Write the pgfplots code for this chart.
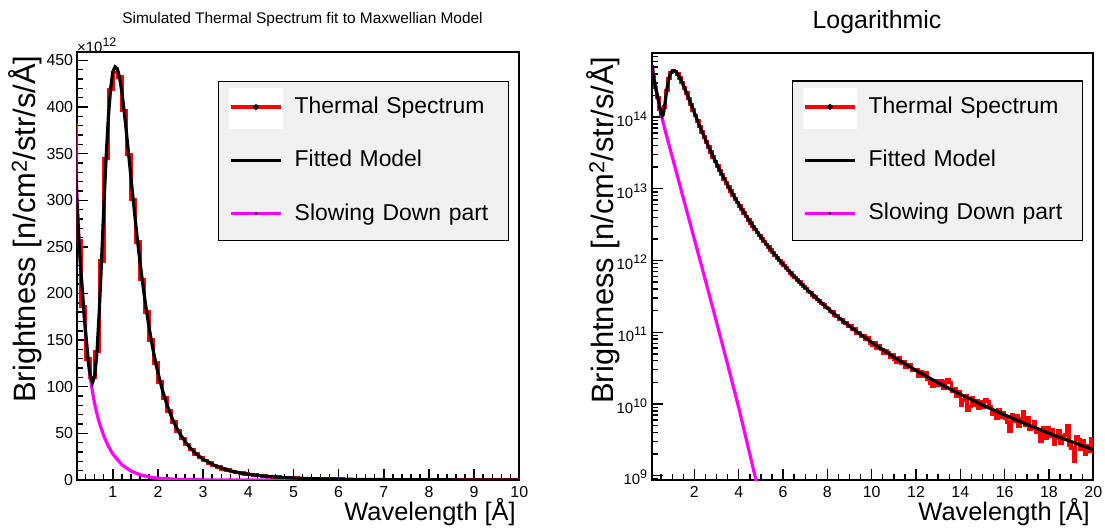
\documentclass[border=0pt]{standalone}
\usepackage{fontspec}
\setmainfont{Liberation Sans}
\usepackage{pgfplots}
\usepackage{pgfplotstable}
\pgfplotsset{compat=1.18}
\definecolor{rootmag}{RGB}{255,0,255}
\definecolor{rootred}{RGB}{255,0,0}

% values in units of 1e12 n/cm2/str/s/A
% histogram: left bin edge, content
\pgfplotstableread{
x y
0.1 380
0.2 257
0.3 186
0.4 130
0.5 110
0.6 138
0.7 235
0.8 345
0.9 419
1.0 437
1.1 432
1.2 396
1.3 349
1.4 301
1.5 255.5
1.6 215
1.7 179.9
1.8 150.3
1.9 125.5
2.0 104.9
2.1 87.9
2.2 73.9
2.3 62.3
2.4 52.7
2.5 44.7
2.6 38.1
2.7 32.6
2.8 27.9
2.9 24.1
3.0 20.8
3.1 18.0
3.2 15.7
3.3 13.7
3.4 12.0
3.5 10.5
3.6 9.27
3.7 8.19
3.8 7.25
3.9 6.44
4.0 5.73
4.1 5.11
4.2 4.58
4.3 4.10
4.4 3.69
4.5 3.32
4.6 3.00
4.7 2.71
4.8 2.45
4.9 2.23
5.0 2.025
5.1 1.844
5.2 1.682
5.3 1.536
5.4 1.405
5.5 1.288
5.6 1.182
5.7 1.086
5.8 0.999
5.9 0.920
6.0 0.849
6.1 0.784
6.2 0.725
6.3 0.672
6.4 0.622
6.5 0.578
6.6 0.537
6.7 0.499
6.8 0.4645
6.9 0.4327
7.0 0.408
7.1 0.372
7.2 0.356
7.3 0.326
7.4 0.311
7.5 0.285
7.6 0.274
7.7 0.250
7.8 0.242
7.9 0.220
8.0 0.214
8.1 0.194
8.2 0.190
8.3 0.172
8.4 0.169
8.5 0.153
8.6 0.151
8.7 0.136
8.8 0.135
8.9 0.122
9.0 0.12405
9.1 0.10966
9.2 0.1101
9.3 0.09633
9.4 0.09794
9.5 0.08778
9.6 0.09037
9.7 0.08014
9.8 0.08259
9.9 0.07087
10.0 0.06590
10.1 0.07057
10.2 0.06068
10.3 0.06573
10.4 0.05720
10.5 0.05152
10.6 0.05580
10.7 0.05203
10.8 0.04526
10.9 0.04903
11.0 0.04217
11.1 0.03858
11.2 0.04342
11.3 0.03751
11.4 0.03894
11.5 0.03212
11.6 0.03493
11.7 0.03544
11.8 0.02922
11.9 0.02931
12.0 0.03010
12.1 0.02462
12.2 0.02845
12.3 0.02437
12.4 0.02691
12.5 0.02202
12.6 0.01974
12.7 0.01771
12.8 0.01910
12.9 0.02109
13.0 0.01806
13.1 0.02094
13.2 0.01640
13.3 0.02037
13.4 0.02153
13.5 0.01982
13.6 0.01483
13.7 0.01604
13.8 0.01286
13.9 0.01457
14.0 0.009714
14.1 0.01129
14.2 0.01311
14.3 0.008181
14.4 0.009290
14.5 0.01211
14.6 0.009735
14.7 0.01105
14.8 0.008683
14.9 0.01081
15.0 0.008891
15.1 0.01135
15.2 0.01074
15.3 0.009273
15.4 0.007301
15.5 0.007750
15.6 0.006244
15.7 0.008348
15.8 0.006572
15.9 0.007651
16.0 0.006308
16.1 0.005583
16.2 0.004204
16.3 0.007093
16.4 0.005724
16.5 0.006834
16.6 0.004915
16.7 0.006143
16.8 0.007679
16.9 0.005039
17.0 0.006445
17.1 0.004435
17.2 0.004514
17.3 0.005653
17.4 0.003981
17.5 0.004241
17.6 0.003056
17.7 0.004710
17.8 0.003316
17.9 0.004660
18.0 0.003514
18.1 0.004307
18.2 0.002771
18.3 0.003318
18.4 0.004258
18.5 0.002868
18.6 0.003596
18.7 0.003666
18.8 0.005042
18.9 0.002698
19.0 0.002450
19.1 0.001615
19.2 0.003524
19.3 0.003206
19.4 0.002317
19.5 0.003117
19.6 0.002007
19.7 0.002640
19.8 0.002190
19.9 0.003306
20.0 0.003306
}\histdata

% fitted model
\pgfplotstableread{
x y
0.10 525
0.15 380
0.20 305.5
0.25 257
0.30 219
0.35 186
0.40 157
0.45 130
0.50 112.2
0.55 104.6
0.60 111.7
0.65 137.9
0.70 181.0
0.75 235.1
0.80 292.2
0.85 344.7
0.90 388.2
0.95 419.1
1.00 437.8
1.05 443.0
1.10 441.0
1.15 431.5
1.20 416.0
1.25 395.9
1.30 373.3
1.35 349.4
1.40 325.1
1.45 301.1
1.50 277.8
1.55 255.5
1.60 234.6
1.65 215.0
1.70 196.8
1.75 179.9
1.80 164.5
1.85 150.3
1.90 137.4
1.95 125.5
2.00 114.8
2.10 96.0
2.20 80.6
2.30 67.8
2.40 57.2
2.50 48.5
2.60 41.2
2.70 35.2
2.80 30.1
2.90 25.9
3.00 22.35
3.25 15.68
3.50 11.23
3.75 8.19
4.00 6.078
4.50 3.501
5.00 2.123
5.50 1.345
6.00 0.884
6.50 0.5995
7.00 0.4178
7.50 0.2982
8.00 0.2173
8.50 0.1613
9.00 0.1217
9.50 0.0932
10 0.0724
11 0.0452
12 0.0293
13 0.0197
14 0.01365
15 0.00969
16 0.00703
17 0.00520
18 0.00391
19 0.00299
20 0.00231
}\fitdata

% slowing down part
\pgfplotstableread{
x y
0.10 525
0.15 380
0.20 305.5
0.25 257
0.30 219
0.35 186
0.40 157
0.45 130
0.50 110
0.55 94.4
0.60 81.3
0.65 70.8
0.70 61.7
0.80 47.3
0.90 36.3
1.00 27.9
1.20 16.4
1.40 9.66
1.60 5.69
1.80 3.35
2.00 1.97
2.50 0.525
3.00 0.138
3.50 0.0355
4.00 0.00891
4.50 0.00200
5.00 0.000447
6.00 0.00001
8.00 0.0000001
10.0 0.000000001
}\slowdata

\newcommand\pw[1]{10\raisebox{6bp}{\fontsize{12.5}{12.5}\selectfont #1}}

\pgfplotsset{
  rootframe/.style={
    scale only axis, anchor=south west,
    axis line style={line width=1.8bp},
    tick align=inside, tick pos=left,
    major tick length=11bp, minor tick length=6bp,
    every tick/.style={black, line width=1.4bp},
    tick label style={font=\fontsize{16}{16}\selectfont},
    xticklabel style={inner sep=0pt, yshift=-6bp},
    /pgf/number format/assume math mode=true,
    xlabel style={font=\fontsize{25.5}{25.5}\selectfont, anchor=base east},
    ylabel style={font=\fontsize{31}{31}\selectfont, anchor=base east},
    legend style={
      anchor=north east,
      fill=black!6, draw=black, line width=1.2bp,
      inner xsep=10.7bp, inner ysep=0bp,
      column sep=12bp, row sep=0bp,
      font=\fontsize{23}{23}\selectfont,
      nodes={inner sep=0bp, text width=203bp, align=left,
             text height=16.5bp, text depth=4.8bp,
             minimum height=53.2bp, anchor=base west},
    },
  },
  histimg/.style={legend image code/.code={
      \fill[white] (0bp,-13.5bp) rectangle (50bp,24.2bp);
      \draw[rootred, line width=3.5bp] (0bp,6.5bp) -- (50bp,6.5bp);
      \fill[black] (25bp,6.5bp) circle (0.8bp);}},
  fitimg/.style={legend image code/.code={
      \draw[black, line width=3.2bp] (0bp,6.5bp) -- (50bp,6.5bp);}},
  slowimg/.style={legend image code/.code={
      \draw[rootmag, line width=3.2bp] (0bp,6.5bp) -- (50bp,6.5bp);
      \fill[black] (25bp,6.5bp) circle (0.8bp);}},
}

\begin{document}
\begin{tikzpicture}
\path[use as bounding box, fill=white] (0,0) rectangle (1105bp,531bp);

\node[anchor=base, font=\fontsize{15.5}{15.5}\selectfont] at (302.5bp,507bp)
  {Simulated Thermal Spectrum fit to Maxwellian Model};
\node[anchor=base, font=\fontsize{25}{25}\selectfont] at (877bp,502bp) {Logarithmic};
\node[anchor=base west, inner sep=0pt, font=\fontsize{15}{15}\selectfont] at (77bp,478bp)
  {×10\raisebox{6bp}{\fontsize{12.5}{12.5}\selectfont 12}};

% linear panel
\begin{axis}[rootframe,
  at={(76.7bp,51bp)}, width=442.6bp, height=428bp,
  xmin=0.2, xmax=10, ymin=0, ymax=459,
  xtick={1,...,10}, minor xtick={0.2,0.4,...,9.8},
  ytick={0,50,...,450}, minor y tick num=4,
  yticklabel style={inner sep=0pt, xshift=-3.4bp},
  xlabel={Wavelength [Å]},
  ylabel={Brightness [n/cm\textsuperscript{2}/str/s/Å]},
  xlabel style={at={(axis description cs:1,-0.0935)}},
  ylabel style={at={(axis description cs:-0.092,1)}},
  legend style={at={(0.9768,0.933)}},
]
\addplot[rootred, line width=3.5bp, const plot mark left, histimg] table {\histdata};
\addlegendentry{Thermal Spectrum}
\addplot[rootmag, line width=3.2bp, forget plot] table {\slowdata};
\addplot[black, line width=3.2bp, fitimg] table {\fitdata};
\addlegendentry{Fitted Model}
\addlegendimage{slowimg}
\addlegendentry{Slowing Down part}
\end{axis}

% logarithmic panel
\begin{axis}[rootframe, ymode=log,
  at={(652.3bp,51bp)}, width=441bp, height=427bp,
  xmin=0.1, xmax=20, ymin=0.000871, ymax=781,
  xtick={2,4,...,20}, minor xtick={0.5,1,...,19.5},
  ytick={0.001,0.01,0.1,1,10,100},
  yticklabels={\pw{9},\pw{10},\pw{11},\pw{12},\pw{13},\pw{14}},
  minor ytick={0.0009,0.002,0.003,0.004,0.005,0.006,0.007,0.008,0.009,
    0.02,0.03,0.04,0.05,0.06,0.07,0.08,0.09,
    0.2,0.3,0.4,0.5,0.6,0.7,0.8,0.9,
    2,3,4,5,6,7,8,9,
    20,30,40,50,60,70,80,90,
    200,300,400,500,600,700},
  yticklabel style={font=\fontsize{15}{15}\selectfont, inner sep=0pt, xshift=-5bp, yshift=-2bp},
  xlabel={Wavelength [Å]},
  ylabel={Brightness [n/cm\textsuperscript{2}/str/s/Å]},
  xlabel style={at={(axis description cs:1,-0.0937)}},
  ylabel style={at={(axis description cs:-0.0884,1)}},
  legend style={at={(0.9766,0.9358)}},
]
\addplot[rootred, line width=3.5bp, const plot mark left, histimg] table {\histdata};
\addlegendentry{Thermal Spectrum}
\addplot[rootmag, line width=3.2bp, forget plot] table {\slowdata};
\addplot[black, line width=3.2bp, fitimg] table {\fitdata};
\addlegendentry{Fitted Model}
\addlegendimage{slowimg}
\addlegendentry{Slowing Down part}
\end{axis}
\end{tikzpicture}
\end{document}
